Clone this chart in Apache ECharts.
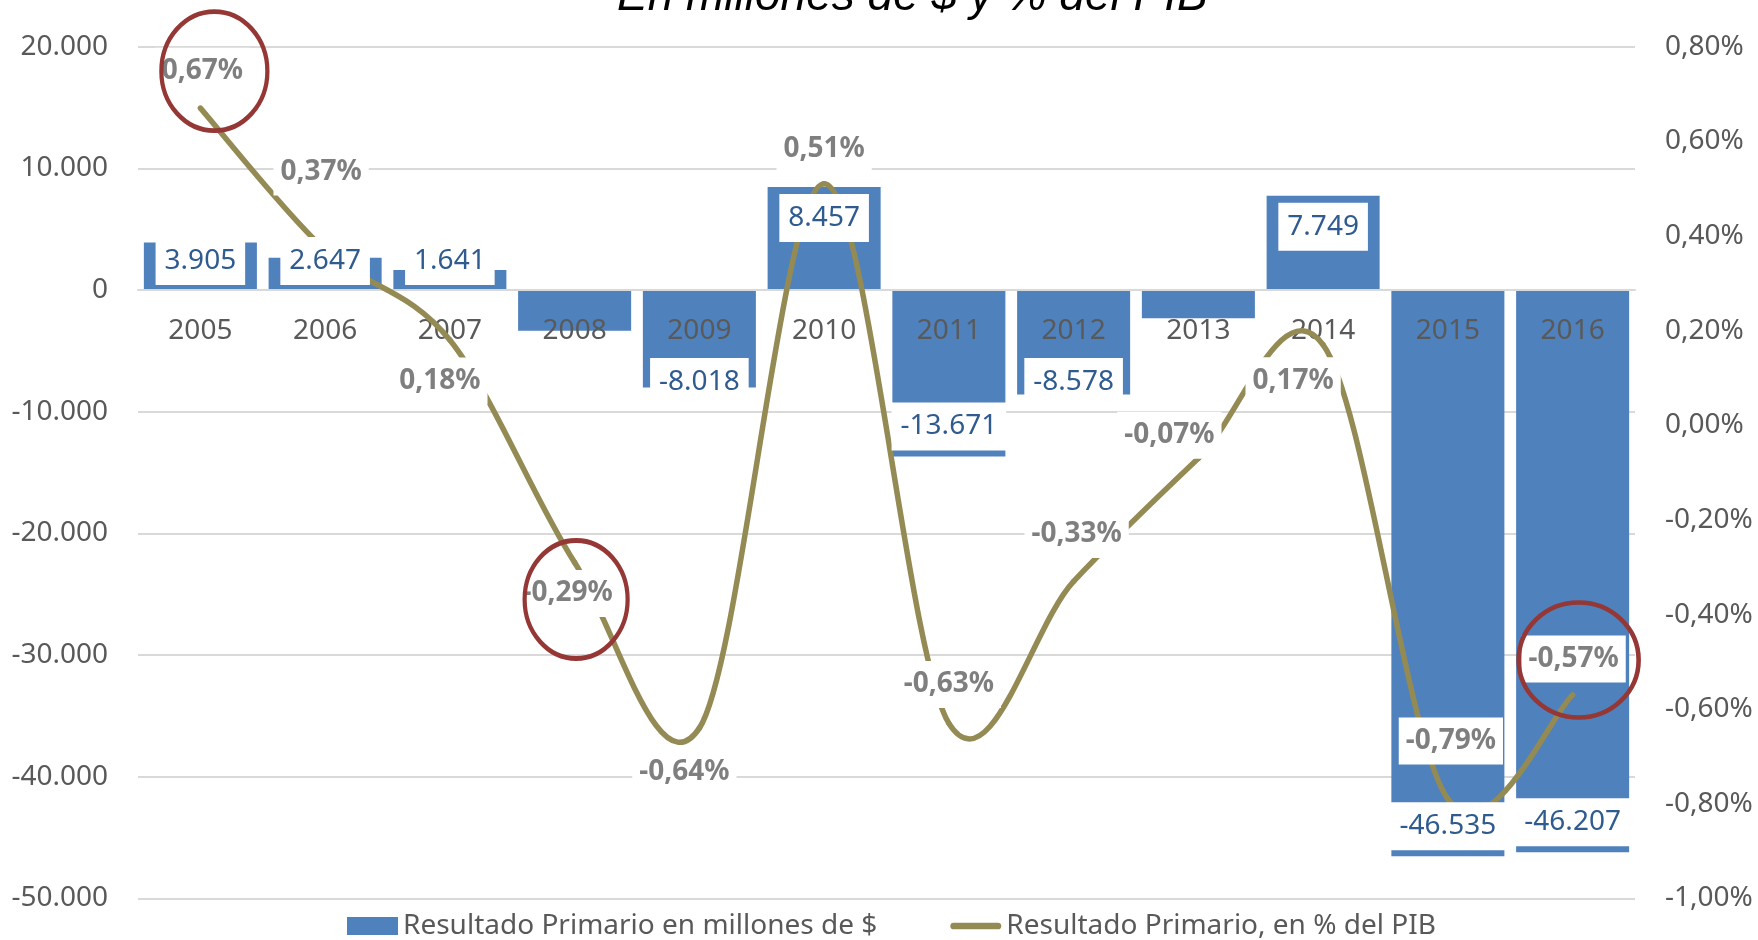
<!DOCTYPE html>
<html><head><meta charset="utf-8">
<script src="https://cdn.jsdelivr.net/npm/echarts@6/dist/echarts.min.js"></script>
<style>html,body{margin:0;padding:0;background:#fff}#c{width:1758px;height:940px}</style>
</head><body><div id="c"></div>
<script>
// ---- data ----
const years = ['2005','2006','2007','2008','2009','2010','2011','2012','2013','2014','2015','2016'];
const resultadoMillones = [3905, 2647, 1641, -3340, -8018, 8457, -13671, -8578, -2325, 7749, -46535, -46207];
const resultadoPIB = [0.67, 0.37, 0.18, -0.29, -0.64, 0.51, -0.63, -0.33, -0.07, 0.17, -0.79, -0.57];
const leftAxisTicks = {min: -50000, max: 20000, interval: 10000};
const rightAxisTicks = {min: -1.0, max: 0.8, interval: 0.2};
const barName = 'Resultado Primario en millones de $';
const lineName = 'Resultado Primario, en % del PIB';
const titleText = 'En millones de $ y % del PIB';
const hiddenBarLabels = ['2008', '2013'];
const circledYears = ['2005', '2008', '2016'];

// ---- layout / style (not data) ----
const pctLabelOffsets = [[2,-37],[-4,-78],[-10,41],[-7,31],[-15,44],[0,-35],[0,-39],[3,-47],[-29,-23],[-30,36],[3,-58],[1,-36]];
const ellipseSizes = [[106,119],[103,118],[120,115]];
const ellipseOffsets = [[14,-37],[1.5,37],[6,-35]];
const BOX_H = 48;
const FONT = 'Noto Sans';
const LINE_COLOR = '#948A54';

function fmtThousands(v){
  const r = Math.round(v);
  const s = Math.abs(r).toString().replace(/\B(?=(\d{3})+(?!\d))/g, '.');
  return (r < 0 ? '-' : '') + s;
}
function fmtPct(v){
  if (Math.abs(v) < 1e-9) v = 0;
  return v.toFixed(2).replace('.', ',') + '%';
}

const chart = echarts.init(document.getElementById('c'), null, {renderer: 'canvas'});
const ellipsePath = 'path://M0,50 A50,50 0 1 1 100,50 A50,50 0 1 1 0,50 Z';

// Excel-style smoothed line (Catmull-Rom through the points), drawn segment by segment
function renderSmoothSegment(params, api) {
  const i = params.dataIndex;
  const n = resultadoPIB.length;
  if (i >= n - 1) return null;
  const P = k => api.coord([years[k], resultadoPIB[k]]);
  const p0 = P(Math.max(i - 1, 0)), p1 = P(i), p2 = P(i + 1), p3 = P(Math.min(i + 2, n - 1));
  return {
    type: 'bezierCurve',
    shape: {
      x1: p1[0], y1: p1[1], x2: p2[0], y2: p2[1],
      cpx1: p1[0] + (p2[0] - p0[0]) / 6, cpy1: p1[1] + (p2[1] - p0[1]) / 6,
      cpx2: p2[0] - (p3[0] - p1[0]) / 6, cpy2: p2[1] - (p3[1] - p1[1]) / 6
    },
    style: {stroke: LINE_COLOR, lineWidth: 5.5, fill: null, lineCap: 'round'}
  };
}

const option = {
  animation: false,
  backgroundColor: '#ffffff',
  title: {
    text: titleText, left: 617, top: -26, padding: 0,
    textStyle: {fontFamily: 'Liberation Sans', fontStyle: 'italic', fontWeight: 'normal', fontSize: 46, color: '#000000'}
  },
  legend: {
    left: 347, top: 912, padding: 0, itemWidth: 51, itemHeight: 18, itemGap: 73,
    textStyle: {fontFamily: FONT, fontSize: 28, color: '#595959'},
    data: [
      {name: barName, icon: 'rect'},
      {name: lineName, icon: 'path://M3.5,0 L49.5,0 A3.5,3.5 0 0 1 49.5,7 L3.5,7 A3.5,3.5 0 0 1 3.5,0 Z'}
    ]
  },
  grid: {left: 138, right: 123, top: 46.6, bottom: 41.5, containLabel: false, outerBoundsMode: 'none'},
  xAxis: {
    type: 'category', data: years, z: 2.5,
    axisLine: {onZero: false, show: true, lineStyle: {color: '#D9D9D9', width: 2}},
    axisTick: {show: false},
    axisLabel: {interval: 0, margin: 27, fontFamily: FONT, fontSize: 28, color: '#595959'},
    splitLine: {show: false}
  },
  yAxis: [
    {
      type: 'value', min: leftAxisTicks.min, max: leftAxisTicks.max, interval: leftAxisTicks.interval,
      axisLine: {show: false}, axisTick: {show: false},
      axisLabel: {margin: 30, fontFamily: FONT, fontSize: 28, color: '#595959', formatter: fmtThousands},
      splitLine: {show: true, lineStyle: {color: '#D9D9D9', width: 2}}
    },
    {
      type: 'value', position: 'right', min: rightAxisTicks.min, max: rightAxisTicks.max, interval: rightAxisTicks.interval,
      axisLine: {show: false}, axisTick: {show: false},
      axisLabel: {margin: 30, fontFamily: FONT, fontSize: 28, color: '#595959', formatter: fmtPct},
      splitLine: {show: false}
    }
  ],
  series: [
    {
      name: barName, type: 'bar', yAxisIndex: 0, z: 2,
      data: resultadoMillones,
      barCategoryGap: '9.4%', barGap: '-100%',
      itemStyle: {color: '#4F81BD'},
      label: {show: false}
    },
    {
      name: lineName, type: 'custom', yAxisIndex: 1, z: 3,
      coordinateSystem: 'cartesian2d',
      itemStyle: {color: LINE_COLOR},
      data: resultadoPIB,
      renderItem: renderSmoothSegment
    },
    {
      name: 'pctLabels', type: 'line', yAxisIndex: 1, z: 3,
      data: resultadoPIB.map((v, i) => ({value: v, label: {offset: pctLabelOffsets[i]}})),
      symbol: 'circle', symbolSize: 1, showSymbol: true,
      itemStyle: {color: LINE_COLOR},
      lineStyle: {opacity: 0, width: 0},
      label: {
        show: true, position: 'inside', formatter: p => fmtPct(p.value),
        fontFamily: FONT, fontWeight: 'bold', fontSize: 28, lineHeight: 31, color: '#7F7F7F',
        backgroundColor: '#ffffff', padding: [8, 7, 8, 7]
      },
      markPoint: {
        symbol: ellipsePath, silent: true, z: 6,
        label: {show: false},
        itemStyle: {color: 'rgba(0,0,0,0)', borderColor: '#953735', borderWidth: 4.5},
        data: circledYears.map((y, k) => ({
          coord: [y, resultadoPIB[years.indexOf(y)]],
          symbolSize: ellipseSizes[k], symbolOffset: ellipseOffsets[k]
        }))
      }
    },
    {
      name: 'barLabels', type: 'bar', yAxisIndex: 0, z: 4,
      data: resultadoMillones,
      barCategoryGap: '9.4%', barGap: '-100%',
      itemStyle: {color: 'rgba(0,0,0,0)'},
      label: {show: false}
    }
  ]
};
chart.setOption(option);

// second pass: category axis sits on the zero line; bar labels placed like Excel "inside end"
const zeroPx = chart.convertToPixel({yAxisIndex: 0}, 0);
const bottomPx = chart.convertToPixel({yAxisIndex: 0}, leftAxisTicks.min);
const labelData = resultadoMillones.map((v, i) => {
  const endPx = chart.convertToPixel({yAxisIndex: 0}, v);
  const mid = (zeroPx + endPx) / 2;
  let c;
  if (v >= 0) {
    const h = zeroPx - endPx;
    c = h >= BOX_H + 14 ? endPx + 7 + BOX_H / 2 : zeroPx - 5 - BOX_H / 2;
  } else {
    c = Math.max(endPx - 6 - BOX_H / 2, zeroPx + 68 + BOX_H / 2);
  }
  return {
    value: v,
    label: {
      show: hiddenBarLabels.indexOf(years[i]) < 0,
      position: 'inside', offset: [0, c - mid],
      formatter: p => fmtThousands(p.value),
      fontFamily: FONT, fontSize: 28, lineHeight: 32, color: '#2F5B8F',
      backgroundColor: '#ffffff', padding: [8, 9, 8, 9]
    }
  };
});
chart.setOption({
  xAxis: {offset: zeroPx - bottomPx},
  series: [{}, {}, {}, {data: labelData}]
});
</script>
</body></html>
